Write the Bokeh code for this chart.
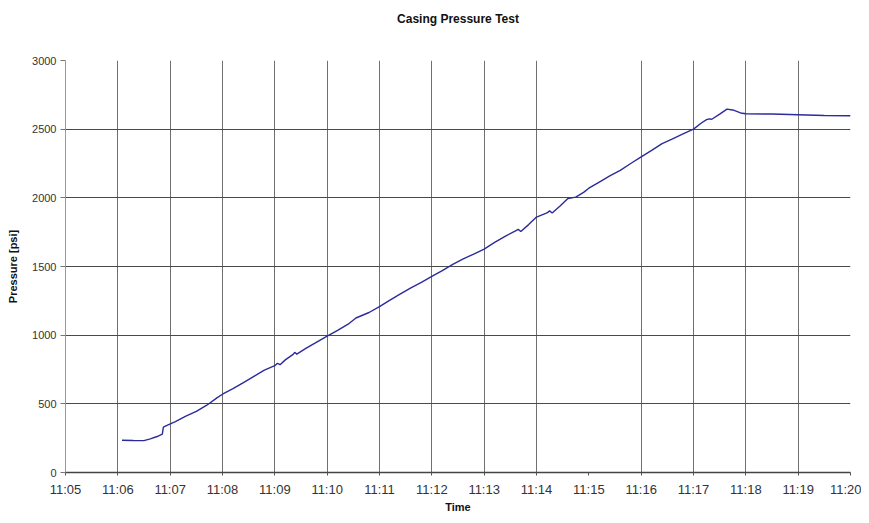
from bokeh.plotting import figure
from bokeh.models import FixedTicker, Range1d, Title
from bokeh.embed import file_html
from bokeh.resources import INLINE

# minutes after 11:00
time_min = [6.08, 6.30, 6.50, 6.62, 6.75, 6.85, 6.87, 6.95, 7.10, 7.30, 7.50, 7.70, 7.90, 8.00,
            8.20, 8.40, 8.60, 8.80, 9.00, 9.05, 9.10, 9.20, 9.35, 9.38, 9.42, 9.60, 9.80, 10.00,
            10.20, 10.40, 10.55, 10.80, 11.00, 11.20, 11.40, 11.60, 11.80, 12.00, 12.20, 12.40,
            12.60, 12.80, 13.00, 13.20, 13.40, 13.60, 13.65, 13.70, 13.85, 14.00, 14.20, 14.25,
            14.30, 14.45, 14.60, 14.75, 14.90, 15.00, 15.20, 15.40, 15.60, 15.80, 16.00, 16.20,
            16.40, 16.60, 16.80, 17.00, 17.15, 17.25, 17.30, 17.35, 17.50, 17.64, 17.75, 17.90,
            18.00, 18.50, 19.00, 19.50, 20.00]
pressure = [235, 233, 232, 245, 262, 280, 330, 345, 370, 410, 445, 490, 545, 570,
            610, 655, 700, 745, 778, 795, 785, 820, 860, 875, 862, 905, 950, 993,
            1035, 1080, 1125, 1165, 1208, 1255, 1300, 1345, 1385, 1428, 1470, 1515,
            1555, 1590, 1627, 1675, 1720, 1760, 1770, 1755, 1805, 1860, 1890, 1905,
            1890, 1940, 1995, 2005, 2040, 2070, 2115, 2160, 2200, 2250, 2298, 2345,
            2395, 2430, 2465, 2500, 2545, 2570, 2575, 2572, 2610, 2646, 2640, 2618,
            2612, 2610, 2605, 2600, 2598]

x_ticks = list(range(5, 21))
x_tick_labels = ["11:%02d" % m for m in x_ticks]
x_grid_ticks = [m for m in x_ticks if m != 15]
y_ticks = [0, 500, 1000, 1500, 2000, 2500, 3000]

FONT = "Liberation Sans"

p = figure(width=861, height=515, output_backend="svg", toolbar_location=None,
           x_range=Range1d(5, 20), y_range=Range1d(0, 3000),
           title="Casing Pressure Test",
           min_border_left=65, min_border_right=11, min_border_top=60, min_border_bottom=42)

p.line(time_min, pressure, line_color="#2b2b9c", line_width=1.4)

p.title.align = "center"
p.title.text_font = FONT
p.title.text_font_size = "12px"
p.title.text_font_style = "bold"
p.title.text_color = "#111111"
p.title.standoff = 18

# blank spacer between the title and the plot frame
p.add_layout(Title(text=" ", text_font=FONT, text_font_size="12px", standoff=10), "above")

p.outline_line_color = None
p.background_fill_color = "white"
p.border_fill_color = "white"

# x axis
p.xaxis.ticker = FixedTicker(ticks=x_ticks)
p.xaxis.major_label_overrides = {m: lab for m, lab in zip(x_ticks, x_tick_labels)}
p.xaxis.axis_label = "Time"
p.xaxis.axis_label_text_font = FONT
p.xaxis.axis_label_text_font_size = "11px"
p.xaxis.axis_label_text_font_style = "bold"
p.xaxis.axis_label_text_color = "#111111"
p.xaxis.axis_label_standoff = 1
p.xaxis.major_label_text_font = FONT
p.xaxis.major_label_text_font_size = "13px"
p.xaxis.major_label_text_color = "#333333"
p.xaxis.major_label_standoff = 6
p.xaxis.axis_line_color = "#444444"
p.xaxis.axis_line_width = 1.5
p.xaxis.major_tick_line_color = "#555555"
p.xaxis.major_tick_out = 3
p.xaxis.major_tick_in = 0
p.xaxis.minor_tick_line_color = None

# y axis
p.yaxis.ticker = FixedTicker(ticks=y_ticks)
p.yaxis.axis_label = "Pressure [psi]"
p.yaxis.axis_label_text_font = FONT
p.yaxis.axis_label_text_font_size = "11px"
p.yaxis.axis_label_text_font_style = "bold"
p.yaxis.axis_label_text_color = "#111111"
p.yaxis.axis_label_standoff = 10
p.yaxis.major_label_text_font = FONT
p.yaxis.major_label_text_font_size = "11px"
p.yaxis.major_label_text_color = "#333333"
p.yaxis.major_label_standoff = 4
p.yaxis.axis_line_color = "#999999"
p.yaxis.major_tick_line_color = "#777777"
p.yaxis.major_tick_out = 5
p.yaxis.major_tick_in = 0
p.yaxis.minor_tick_line_color = None

# grids
p.xgrid.ticker = FixedTicker(ticks=x_grid_ticks)
p.xgrid.grid_line_color = "#707070"
p.xgrid.grid_line_alpha = 1.0
p.xgrid.grid_line_width = 1
p.ygrid.ticker = FixedTicker(ticks=y_ticks)
p.ygrid.grid_line_color = "#4a4a4a"
p.ygrid.grid_line_alpha = 1.0
p.ygrid.grid_line_width = 1

open("out.html", "w").write(file_html(p, INLINE))
